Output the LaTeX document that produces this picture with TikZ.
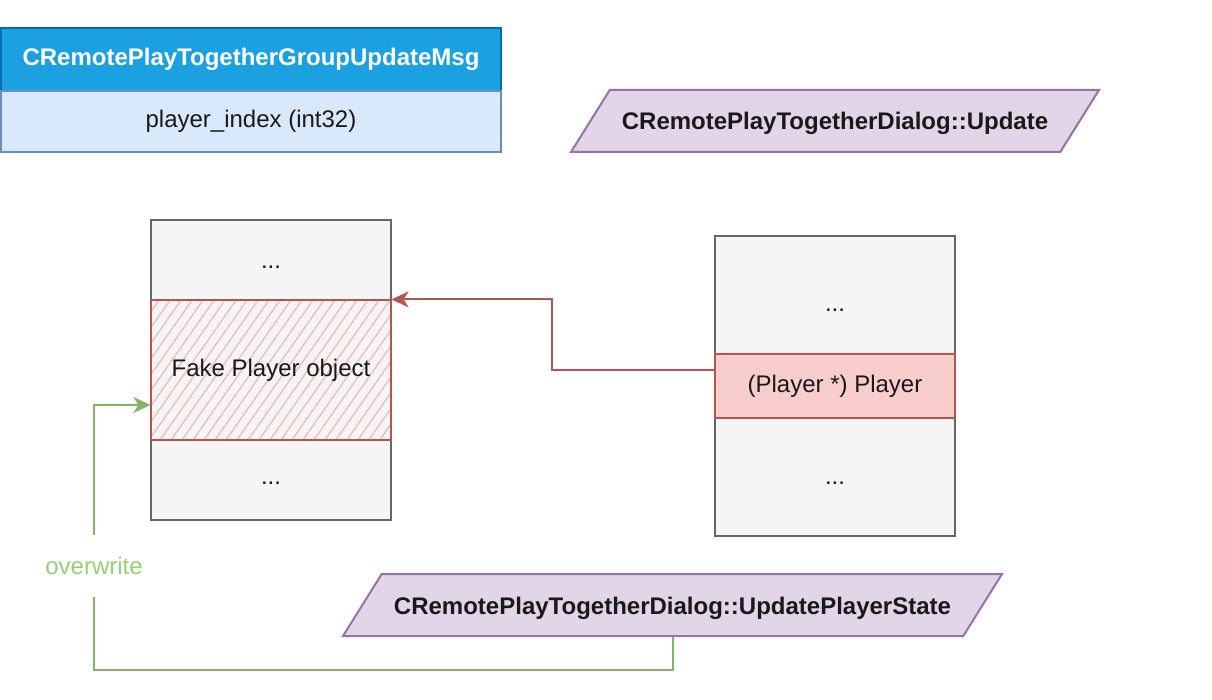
\documentclass[tikz,border=0pt]{standalone}
\usepackage{fontspec}
\setmainfont{Liberation Sans}
\usetikzlibrary{arrows.meta,shapes.geometric,patterns.meta}
\definecolor{headblue}{HTML}{1BA1E2}
\definecolor{headline}{HTML}{006EAF}
\definecolor{bodyblue}{HTML}{DAE8FC}
\definecolor{bodyline}{HTML}{6C8EBF}
\definecolor{funcfill}{HTML}{E1D5E7}
\definecolor{funcline}{HTML}{9673A6}
\definecolor{stackfill}{HTML}{F5F5F5}
\definecolor{stackline}{HTML}{666666}
\definecolor{ptrfill}{HTML}{F8CECC}
\definecolor{ptrline}{HTML}{B85450}
\definecolor{hatchred}{HTML}{F4B6B4}
\definecolor{writeline}{HTML}{82B366}
\definecolor{writetext}{HTML}{97D077}
\tikzset{
  every node/.style={font=\fontsize{24}{28}\selectfont, inner sep=0pt, text=black!90},
  msghead/.style={draw=headline, fill=headblue, line width=2pt, minimum width=500pt,
    minimum height=63pt, outer sep=0pt, text=white, font=\fontsize{24}{28}\selectfont\bfseries},
  msgbody/.style={draw=bodyline, fill=bodyblue, line width=2pt, minimum width=500pt,
    minimum height=61pt, outer sep=0pt},
  funcbox/.style={trapezium, trapezium left angle=58, trapezium right angle=122,
    trapezium stretches body, draw=funcline, fill=funcfill, line width=2pt,
    text height=20pt, text depth=2pt, inner ysep=20pt,
    font=\fontsize{24}{28}\selectfont\bfseries},
  stackbox/.style={draw=stackline, fill=stackfill, line width=2pt, minimum width=240pt},
  fakecell/.style={draw=ptrline, line width=2pt, minimum width=240pt, minimum height=140pt,
    pattern={Lines[angle=55,distance=9pt,line width=1.2pt]}, pattern color=hatchred},
  ptrcell/.style={draw=ptrline, fill=ptrfill, line width=2pt, minimum width=240pt,
    minimum height=64pt},
  dots/.style={anchor=base},
  ptrarrow/.style={draw=ptrline, line width=2pt, -{Stealth[length=17pt,width=16pt,inset=5pt]}},
  writearrow/.style={draw=writeline, line width=2pt, -{Stealth[length=17pt,width=16pt,inset=5pt]}},
  writelabel/.style={fill=white, text=writetext, minimum height=62pt, minimum width=110pt}
}
\begin{document}
\begin{tikzpicture}[x=1pt,y=-1pt]
\useasboundingbox (0,0) rectangle (1212,700);

% message layout
\node[msghead] (msg) at (251,59.5) {CRemotePlayTogetherGroupUpdateMsg};
\node[msgbody, anchor=north] (msgidx) at (msg.south) {player\_index (int32)};

% functions
\node[funcbox, minimum width=528pt] (upd) at (835,121) {CRemotePlayTogetherDialog::Update};
\node[funcbox, minimum width=659pt] (ups) at (672.5,605) {CRemotePlayTogetherDialog::UpdatePlayerState};

% left memory
\node[stackbox, minimum height=300pt] (lstack) at (271,370) {};
\node[dots] (ldots1) at (271,269) {...};
\node[fakecell] (fakeobj) at (271,370) {Fake Player object};
\node[dots] (ldots2) at (271,484) {...};

% right memory
\node[stackbox, minimum height=300pt] (rstack) at (835,386) {};
\node[dots] (rdots1) at (835,312) {...};
\node[ptrcell] (player) at (835,386) {(Player *) Player};
\node[dots] (rdots2) at (835,484) {...};

% pointer
\draw[ptrarrow] ([yshift=16pt]player.west) -- ++(-162,0) |- (fakeobj.north east);

% overwrite
\draw[writearrow] (ups.south) -- ++(0,33) -| ([xshift=-56pt,yshift=-35pt]fakeobj.west)
  -- ([yshift=-35pt]fakeobj.west);
\node[writelabel] (ovw) at (94,566) {overwrite};
\end{tikzpicture}
\end{document}
